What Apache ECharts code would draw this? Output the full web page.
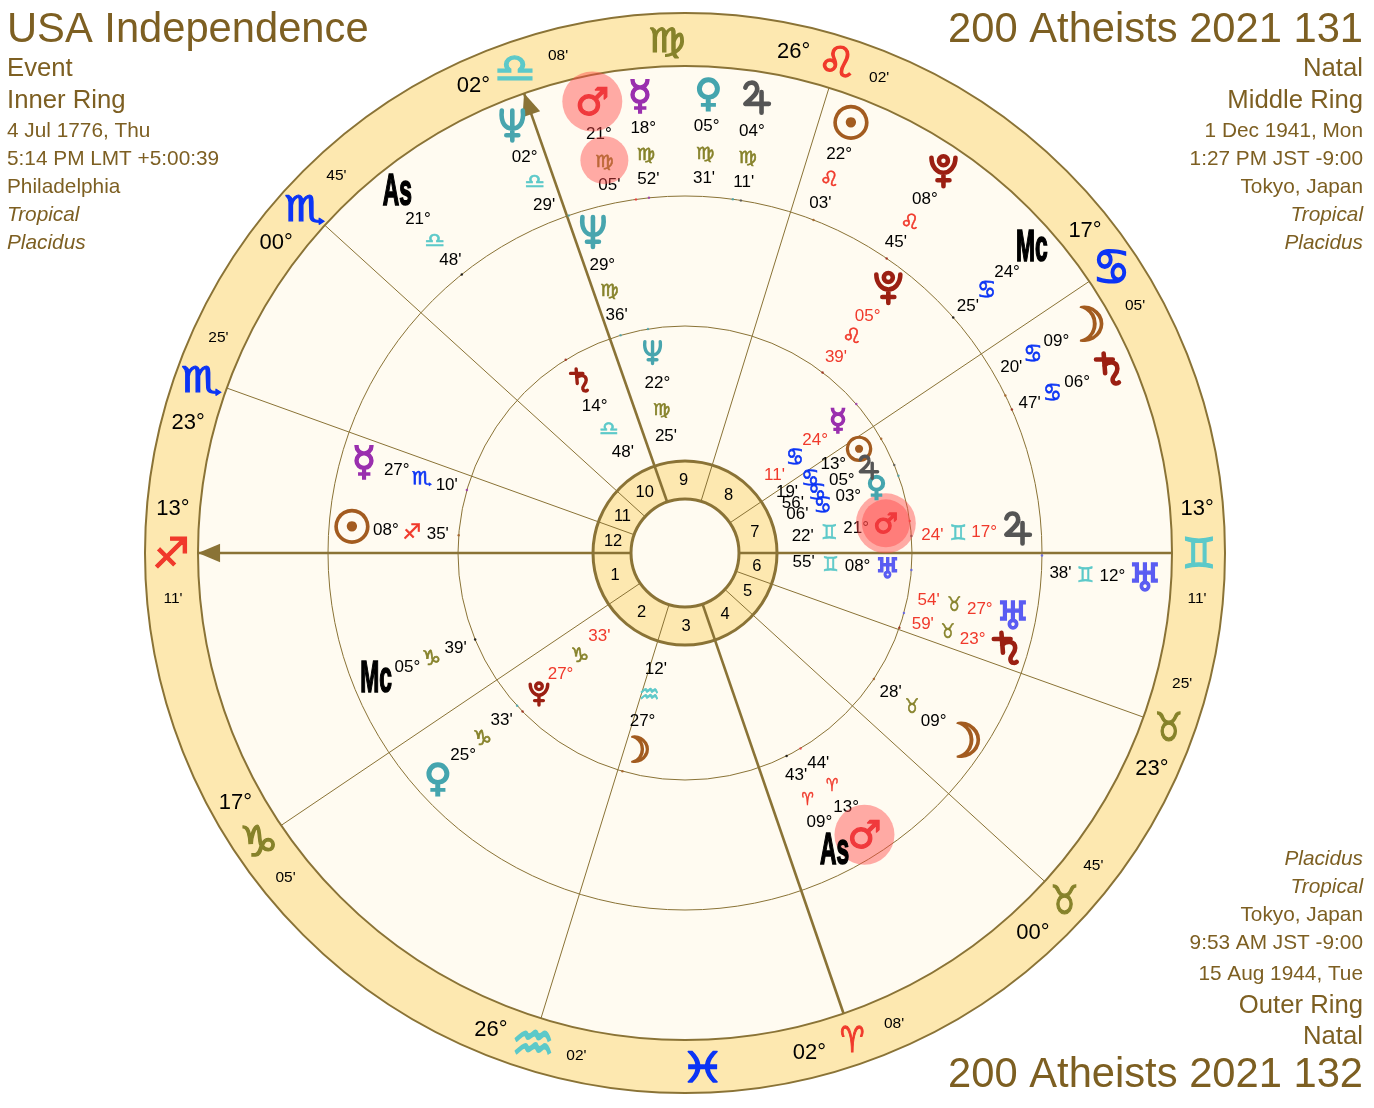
<!DOCTYPE html>
<html><head><meta charset="utf-8">
<style>html,body{margin:0;padding:0;background:#fff}#c{width:1374px;height:1108px}</style>
<script src="https://cdn.jsdelivr.net/npm/echarts@6/dist/echarts.min.js"></script>
</head><body><div id="c"></div>
<script>
// ---------- DATA ----------
const houseCusps = [0, 33.9, 72.8, 109.3, 137.7, 160.2, 180, 214, 252.8, 289, 317.6, 340.3];
const angularCusps = [0, 109.3, 180, 289];
const arrowCusps = [180, 109.3];
const houseNumbers = ['7','8','9','10','11','12','1','2','3','4','5','6'];
// angle, sign, degree, minute
const bandCusps = [
  [0,'gem','13°',"11'"],[33.9,'can','17°',"05'"],[72.8,'leo','26°',"02'"],[92,'vir','',''],
  [109.3,'lib','02°',"08'"],[137.7,'sco','00°',"45'"],[160.2,'sco','23°',"25'"],[180,'sag','13°',"11'"],
  [214,'cap','17°',"05'"],[252.8,'aqu','26°',"02'"],[272,'pis','',''],[289,'ari','02°',"08'"],
  [317.6,'tau','00°',"45'"],[340.3,'tau','23°',"25'"]
];
// body, ray angle, degree, sign, minute, retrograde, tick angle
const outerRing = [
  ['mars',101.6,'21°','vir',"05'",0,97.9],['mercury',95.6,'18°','vir',"52'",0,95.8],
  ['venus',87.1,'05°','vir',"31'",0,82.3],['jupiter',81,'04°','vir',"11'",0,81],
  ['sun',68.9,'22°','leo',"03'",0,68.9],['pluto',55.9,'08°','leo',"45'",0,55.6],
  ['mc',41.2,'24°','can',"25'",0,41.3],['moon',29.8,'09°','can',"20'",0,26.2],
  ['saturn',23.6,'06°','can',"47'",0,23.7],['uranus',357,'12°','gem',"38'",0,359.6],
  ['neptune',112,'02°','lib',"29'",0,109],['as',128.6,'21°','lib',"48'",0,128.7]
];
const middleRing = [
  ['neptune',106,'29°','vir',"36'",0,106.5],['pluto',52.5,'05°','leo',"39'",1,52.7],
  ['jupiter',4.2,'17°','gem',"24'",1,4.3],['uranus',349.3,'27°','tau',"54'",1,344.7],
  ['saturn',343.5,'23°','tau',"59'",1,340.8],['moon',326,'09°','tau',"28'",0,326.3],
  ['mars',302.5,'13°','ari',"44'",0,300.6],['as',296.6,'09°','ari',"43'",0,296.6],
  ['venus',222.3,'25°','cap',"33'",0,222.3],['mc',202.3,'05°','cap',"39'",0,202.4],
  ['sun',175.5,'08°','sag',"35'",0,175.5],['mercury',163.9,'27°','sco',"10'",0,163.9]
];
const innerRing = [
  ['neptune',99.2,'22°','vir',"25'",0,99.4],['saturn',121.5,'14°','lib',"48'",0,121.7],
  ['pluto',224,'27°','cap',"33'",1,224.3],['moon',255.8,'27°','aqu',"12'",0,254],
  ['mercury',41.2,'24°','can',"11'",1,41],['sun',31,'13°','can',"19'",0,30.2],
  ['jupiter',25,'05°','can',"56'",0,22.8],['venus',19.3,'03°','can',"06'",0,19.9],
  ['mars',8.4,'21°','gem',"22'",0,8.1],['uranus',355.8,'08°','gem',"55'",0,355.7]
];
const leftLines = ['Event','Inner Ring','4 Jul 1776, Thu','5:14 PM LMT +5:00:39','Philadelphia','Tropical','Placidus'];
const rightLines = ['Natal','Middle Ring','1 Dec 1941, Mon','1:27 PM JST -9:00','Tokyo, Japan','Tropical','Placidus'];
const bottomLines = ['Placidus','Tropical','Tokyo, Japan','9:53 AM JST -9:00','15 Aug 1944, Tue','Outer Ring','Natal'];
const titleLeft = 'USA Independence', titleRight = '200 Atheists 2021 131', titleBottom = '200 Atheists 2021 132';

// ---------- GLYPHS AND STYLE ----------
const signs = {ari:'\u2648',tau:'\u2649',gem:'\u264A',can:'\u264B',leo:'\u264C',vir:'\u264D',lib:'\u264E',sco:'\u264F',sag:'\u2650',cap:'\u2651',aqu:'\u2652',pis:'\u2653'};
const signScale = {ari:[.65,.85],tau:[.75,.95],gem:[.9,1],can:[1,1.2],leo:[1.05,1],vir:[1,.8],lib:[1.1,.95],sco:[1.1,.85],sag:[1,1],cap:[1.05,1],aqu:[1.15,1.3],pis:[1.2,1]};
const FIRE='#f0392b',EARTH='#86822a',AIR='#5cc9c9',WATER='#0b34f5';
const signColor = {ari:FIRE,leo:FIRE,sag:FIRE,tau:EARTH,vir:EARTH,cap:EARTH,gem:AIR,lib:AIR,aqu:AIR,can:WATER,sco:WATER,pis:WATER};
const bodies = {
  sun:['\u2609','#a35c20',1.2,2],moon:['\u263D','#a35c20',1.25,2],mercury:['\u263F','#9a2fae',1.05,1.6],venus:['\u2640','#45a5ae',1,1.6],
  mars:['\u2642','#f0393c',1,1.2],jupiter:['\u2643','#555555'],saturn:['\u2644','#9b1f12'],uranus:['\u2645','#5a5cf2',1,1.4],
  neptune:['\u2646','#48a5ae'],pluto:['\u2647','#9b1f12'],as:['As','#000'],mc:['Mc','#000']
};
const drawnBodies = {
  jupiter:'M5 6C6 2 12 1 13 6C14 10 8 14 5 17H21M16 9V23',
  saturn:'M8 2L9 15M3 6H14M8.5 10C11 7 17 7 17 12C17 16 13 17 14 20C14.5 22 17 22 18 21',
  neptune:'M5 2C4 11 8 14 12 14C16 14 20 11 19 2M12 2V22M8 18.5H16',
  pluto:'M4 3C4 9 8 13 12 13C16 13 20 9 20 3M9 5a3 3 0 1 0 6 0a3 3 0 1 0 -6 0M12 13V22M8 18H16'
};
const INK='#8a7336', GOLD='#7d5f22', BAND='#fde8b0', PAPER='#fffbf1', RED='#f0392b';
const SANS='"Liberation Sans",Arial,sans-serif', SYM='"DejaVu Sans"';
// radii: glyph, degree, sign, minute, tick
const ringRadii = {outer:[461,428,401,376,357], middle:[334,300,274,248,227], inner:[203,173,146,119,227]};
const ringSize = {outer:[38,21], middle:[38,21], inner:[28,20]};
const drawnSize = {outer:[30,4.6], middle:[30,4.6], inner:[22,3.4]};

// ---------- MARK LISTS (values only, positions come from the polar axes) ----------
const texts=[], haloes=[], ticks=[], glyphs=[], drawn=[];
function addRing(rows,key){
  const R=ringRadii[key], S=ringSize[key];
  rows.forEach(r=>{
    const [b,a,d,s,m,retro,t]=r, col=retro?RED:'#000';
    if(b==='mars'){ haloes.push([R[0],a,30]); if(key==='inner') haloes.push([R[0],a,24]); }
    if(key==='outer'&&b==='mars') haloes.push([R[2],a,24]);
    if(drawnBodies[b]) drawn.push([R[0],a,b,drawnSize[key][0],drawnSize[key][1]]);
    else glyphs.push([R[0],a,b,S[0]]);
    texts.push([R[1],a,d,SANS,17,col,[1,1],0]);
    texts.push([R[2],a,signs[s]+'\uFE0E',SYM,S[1],signColor[s],signScale[s],0.6]);
    texts.push([R[3],a,m,SANS,17,col,[1,1],0]);
    ticks.push([R[4],t,bodies[b][1]]);
  });
}
addRing(outerRing,'outer');addRing(middleRing,'middle');addRing(innerRing,'inner');
const bandTexts=[];
bandCusps.forEach(([a,s,d,m])=>{
  const off=a<180?5:-5;
  bandTexts.push([514,a,signs[s]+'\uFE0E',SYM,42,signColor[s],signScale[s],1.3]);
  if(d){bandTexts.push([514,a+off,d,SANS,22,'#000',[1,1],0]);bandTexts.push([514,a-off,m,SANS,15.5,'#000',[1,1],0]);}
});
const hubTexts=houseCusps.map((a,i)=>{
  const n=i+1<houseCusps.length?houseCusps[i+1]:360;
  return [73,(a+n)/2,houseNumbers[i],SANS,16.5,'#000',[1,1],0];
});
const discs=[[0,540,INK,2,BAND],[0,487,INK,2,PAPER],[0,357,INK,1,'none'],[0,227,INK,1,'none'],[54,92,INK,3,BAND]];

function textSeries(rows,z){
  return {type:'custom',coordinateSystem:'polar',z,clip:false,silent:true,data:rows.map(r=>[r[0],r[1]]),
    renderItem(p,api){
      const r=rows[p.dataIndex],c=api.coord([r[0],r[1]]);
      const dy=r[3]===SYM?r[4]*0.1:r[4]*0.05;
      return {type:'text',x:c[0],y:c[1]+dy,scaleX:r[6][0],scaleY:r[6][1],style:{text:r[2],fill:r[5],stroke:r[7]?r[5]:null,lineWidth:r[7],
        align:'center',verticalAlign:'middle',font:r[4]+'px '+r[3]}};
    }};
}
const glyphSeries={type:'custom',coordinateSystem:'polar',z:7,clip:false,silent:true,data:glyphs.map(r=>[r[0],r[1]]),
  renderItem(p,api){
    const r=glyphs[p.dataIndex],c=api.coord([r[0],r[1]]),b=bodies[r[2]];
    if(r[2]==='as'||r[2]==='mc'){
      return {type:'text',x:c[0],y:c[1],scaleX:0.6,scaleY:1.15,style:{text:b[0],fill:'#000',stroke:'#000',lineWidth:1.5,
        align:'center',verticalAlign:'middle',font:'bold 38px '+SANS}};
    }
    const s=b[2]||1;
    return {type:'text',x:c[0],y:c[1]+r[3]*0.1*s,style:{text:b[0]+'\uFE0E',fill:b[1],stroke:b[1],lineWidth:b[3],
      align:'center',verticalAlign:'middle',font:'bold '+(r[3]*s)+'px '+SYM}};
  }};
const drawnSeries={type:'custom',coordinateSystem:'polar',z:7,clip:false,silent:true,data:drawn.map(r=>[r[0],r[1]]),
  renderItem(p,api){
    const r=drawn[p.dataIndex],c=api.coord([r[0],r[1]]),sz=r[3];
    return {type:'path',x:c[0],y:c[1],shape:{pathData:drawnBodies[r[2]],layout:'center',x:-sz/2,y:-sz/2,width:sz,height:sz},
      style:{fill:'none',stroke:bodies[r[2]][1],lineWidth:r[4],lineCap:'round',lineJoin:'round'}};
  }};

const option={
  animation:false,backgroundColor:'#fff',
  polar:{center:[685,553],radius:540},
  angleAxis:{type:'value',min:0,max:360,startAngle:0,clockwise:false,show:false},
  radiusAxis:{type:'value',min:0,max:540,show:false},
  graphic:[
    {type:'text',left:7,top:10,style:{text:titleLeft,fill:GOLD,font:'41.7px '+SANS}},
    {type:'text',right:11,top:10,style:{text:titleRight,fill:GOLD,font:'41.7px '+SANS}},
    {type:'text',right:11,top:1055,style:{text:titleBottom,fill:GOLD,font:'41.7px '+SANS}},
    ...[0,1,2,3,4,5,6].flatMap(i=>{
      const sz=i<2?25.7:20.8, tops=[56,88,121,149,177,205,233], it=i>=5?'italic ':'';
      return [
        {type:'text',left:7,top:tops[i],style:{text:leftLines[i],fill:GOLD,font:it+sz+'px '+SANS}},
        {type:'text',right:11,top:tops[i],style:{text:rightLines[i],fill:GOLD,font:it+sz+'px '+SANS}}
      ];
    }),
    ...[0,1,2,3,4,5,6].map(i=>{
      const sz=i>=5?25.7:20.8, tops=[849,877,905,933,964,993,1024], it=i<2?'italic ':'';
      return {type:'text',right:11,top:tops[i],style:{text:bottomLines[i],fill:GOLD,font:it+sz+'px '+SANS}};
    })
  ],
  series:[
    {type:'custom',coordinateSystem:'polar',z:1,clip:false,silent:true,data:discs.map(d=>[d[1],0]),
      renderItem(p,api){
        const d=discs[p.dataIndex],c=api.coord([0,0]),q=api.coord([d[1],0]),q0=api.coord([d[0],0]);
        return {type:'ring',shape:{cx:c[0],cy:c[1],r:q[0]-c[0],r0:q0[0]-c[0]},style:{fill:d[4],stroke:d[2],lineWidth:d[3]}};
      }},
    {type:'custom',coordinateSystem:'polar',z:2,clip:false,silent:true,data:houseCusps.map(a=>[487,a]),
      renderItem(p,api){
        const a=houseCusps[p.dataIndex],thick=angularCusps.includes(a);
        const s=api.coord([54,a]),e=api.coord([487,a]);
        return {type:'line',shape:{x1:s[0],y1:s[1],x2:e[0],y2:e[1]},style:{stroke:INK,lineWidth:thick?2.6:1}};
      }},
    {type:'custom',coordinateSystem:'polar',z:3,clip:false,silent:true,data:arrowCusps.map(a=>[487,a]),
      renderItem(p,api){
        const a=arrowCusps[p.dataIndex];
        return {type:'polygon',shape:{points:[api.coord([487,a]),api.coord([465,a+1.15]),api.coord([465,a-1.15])]},style:{fill:INK}};
      }},
    {type:'scatter',coordinateSystem:'polar',z:4,silent:true,symbol:'circle',symbolSize:2.5,
      data:ticks.map(t=>({value:[t[0],t[1]],itemStyle:{color:t[2]}}))},
    textSeries(texts,5),
    {type:'custom',coordinateSystem:'polar',z:6,clip:false,silent:true,data:haloes.map(h=>[h[0],h[1]]),
      renderItem(p,api){
        const h=haloes[p.dataIndex],c=api.coord([h[0],h[1]]);
        return {type:'circle',shape:{cx:c[0],cy:c[1],r:h[2]},style:{fill:'rgba(255,70,70,0.45)'}};
      }},
    glyphSeries,
    drawnSeries,
    textSeries(bandTexts,8),
    textSeries(hubTexts,8)
  ]
};
echarts.init(document.getElementById('c'),null,{renderer:'canvas'}).setOption(option);
</script></body></html>
